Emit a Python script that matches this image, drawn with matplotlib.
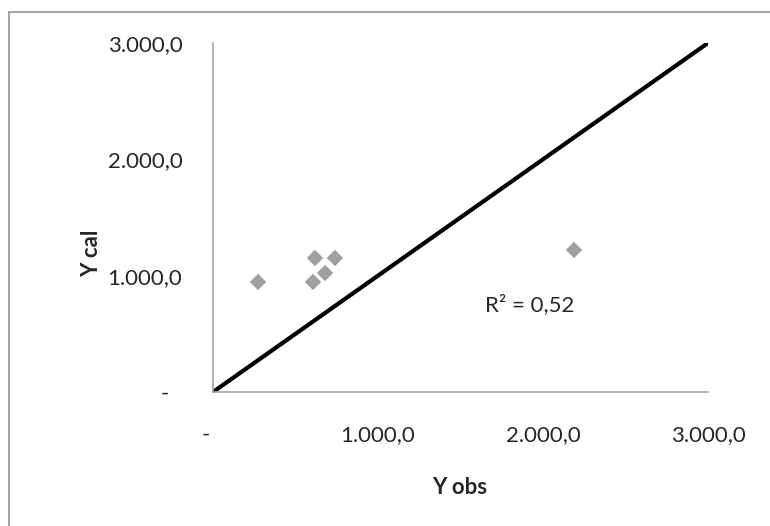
import matplotlib
matplotlib.use("Agg")
import matplotlib.pyplot as plt
from matplotlib.patches import Rectangle
from matplotlib.ticker import FuncFormatter

plt.rcParams['font.family'] = ['Lato', 'DejaVu Sans']

# observed vs calculated values
y_obs = [273, 606, 618, 679, 739, 2188]
y_cal = [946, 946, 1152, 1023, 1152, 1221]
ref_line = [0, 3000]
r2_text = "R² = 0,52"
ticks = [0, 1000, 2000, 3000]

W, H = 770, 526
FS = 16
TXT = "#262626"


def excel_fmt(v, pos=None):
    # accounting-style: zero shown as a dash padded like a digit
    if v == 0:
        return "-\u2007"
    s = f"{v:,.1f}"
    return s.replace(",", "X").replace(".", ",").replace("X", ".")


fig = plt.figure(figsize=(W / 100, H / 100), dpi=100)
fig.patches.append(Rectangle((9 / W, -0.1), 1.2, (H - 12) / H + 0.1,
                             transform=fig.transFigure, fill=False,
                             edgecolor="#a6a6a6", linewidth=1.5))

ax = fig.add_axes([213 / W, (H - 392) / H, 495 / W, 349 / H])
ax.plot(ref_line, ref_line, color="black", linewidth=3, solid_capstyle="butt", zorder=2)
ax.scatter(y_obs, y_cal, marker="D", s=70, color="#a0a0a0", edgecolors="none", zorder=3)

ax.set_xlim(0, 3000)
ax.set_ylim(0, 3000)
ax.set_xticks(ticks)
ax.set_yticks(ticks)
ax.xaxis.set_major_formatter(FuncFormatter(excel_fmt))
ax.yaxis.set_major_formatter(FuncFormatter(excel_fmt))
ax.tick_params(length=0, labelsize=FS, colors=TXT)
ax.tick_params(axis="x", pad=24)
ax.tick_params(axis="y", pad=22)

for side in ("top", "right"):
    ax.spines[side].set_visible(False)
for side in ("left", "bottom"):
    ax.spines[side].set_color("#a6a6a6")
    ax.spines[side].set_linewidth(1.2)

fig.text(460 / W, 1 - 487 / H, "Y obs", fontsize=FS, fontweight="bold",
         color=TXT, ha="center", va="center")
fig.text(92 / W, 1 - 253 / H, "Y cal", fontsize=FS, fontweight="bold",
         color=TXT, ha="center", va="center", rotation=90)
ax.text(1921, 748, r2_text, fontsize=FS, color=TXT, ha="center", va="center")

fig.savefig("out.png", dpi=100)
